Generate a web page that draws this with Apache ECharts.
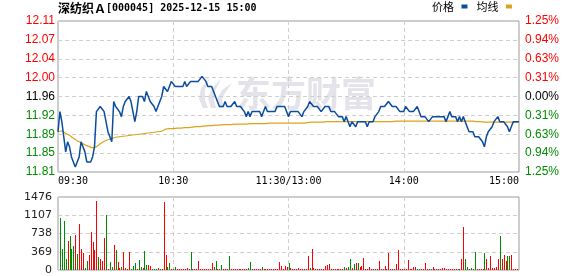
<!DOCTYPE html>
<html><head><meta charset="utf-8">
<script src="https://cdn.jsdelivr.net/npm/echarts@6/dist/echarts.min.js"></script>
<style>html,body{margin:0;padding:0;background:#fff}#c{width:578px;height:276px}</style>
</head><body><div id="c"></div>
<script>
const stockName = '深纺织Ａ';
const stockCode = '[000045]';
const stamp = '2025-12-15 15:00';
const preClose = 11.96;
const halfRangeCents = 15;
const timeLabels = ['09:30', '10:30', '11:30/13:00', '14:00', '15:00'];
const volMax = 1476;
const volStep = 369;
const legendNames = ['价格', '均线'];

const price = [
11.89,11.93,11.91,11.88,11.85,11.87,11.86,11.84,11.83,11.82,
11.82,11.84,11.87,11.86,11.85,11.83,11.83,11.83,11.84,11.86,
11.93,11.93,11.94,11.94,11.93,11.91,11.89,11.88,11.87,11.95,
11.94,11.94,11.93,11.92,11.94,11.95,11.95,11.96,11.95,11.93,
11.91,11.93,11.96,11.96,11.96,11.95,11.97,11.96,11.95,11.95,
11.94,11.93,11.94,11.94,11.96,11.98,11.98,11.97,11.98,11.99,
11.99,11.98,11.98,11.98,11.98,11.98,11.99,11.98,11.98,11.99,
11.99,11.99,11.99,11.99,11.99,12.00,12.00,11.99,11.98,11.98,
11.98,11.97,11.96,11.95,11.94,11.94,11.94,11.95,11.94,11.94,
11.94,11.94,11.95,11.94,11.94,11.94,11.94,11.93,11.92,11.93,
11.92,11.93,11.93,11.93,11.93,11.93,11.92,11.93,11.94,11.93,
11.93,11.93,11.93,11.93,11.94,11.94,11.94,11.94,11.94,11.93,
11.92,11.93,11.93,11.93,11.93,11.93,11.93,11.92,11.93,11.93,
11.94,11.95,11.95,11.94,11.94,11.94,11.94,11.93,11.93,11.94,
11.94,11.94,11.93,11.93,11.93,11.93,11.92,11.92,11.92,11.91,
11.92,11.91,11.90,11.91,11.91,11.90,11.91,11.91,11.91,11.91,
11.91,11.90,11.91,11.91,11.91,11.92,11.92,11.93,11.94,11.94,
11.94,11.94,11.95,11.95,11.94,11.94,11.94,11.94,11.93,11.93,
11.93,11.94,11.94,11.93,11.93,11.93,11.93,11.94,11.93,11.92,
11.92,11.92,11.92,11.91,11.91,11.92,11.92,11.92,11.92,11.92,
11.92,11.92,11.91,11.92,11.93,11.92,11.92,11.92,11.91,11.92,
11.91,11.92,11.91,11.90,11.89,11.89,11.89,11.88,11.88,11.88,
11.88,11.87,11.86,11.88,11.89,11.89,11.90,11.91,11.91,11.92,
11.91,11.91,11.91,11.91,11.90,11.89,11.90,11.91,11.91,11.91,11.91
];

const avgPrice = [
11.890,11.893,11.892,11.890,11.887,11.885,11.883,11.880,11.877,11.874,
11.872,11.870,11.868,11.866,11.864,11.862,11.861,11.859,11.858,11.857,
11.860,11.863,11.866,11.869,11.871,11.873,11.874,11.875,11.876,11.878,
11.879,11.880,11.880,11.881,11.881,11.882,11.882,11.883,11.883,11.884,
11.884,11.884,11.885,11.885,11.886,11.886,11.887,11.887,11.888,11.888,
11.889,11.889,11.890,11.890,11.891,11.894,11.895,11.895,11.896,11.896,
11.896,11.897,11.897,11.897,11.897,11.898,11.898,11.898,11.898,11.899,
11.899,11.899,11.900,11.900,11.900,11.901,11.901,11.901,11.902,11.902,
11.902,11.902,11.903,11.903,11.903,11.903,11.904,11.904,11.904,11.904,
11.904,11.905,11.905,11.905,11.905,11.905,11.905,11.905,11.905,11.906,
11.906,11.906,11.906,11.906,11.906,11.906,11.906,11.906,11.906,11.907,
11.907,11.907,11.907,11.907,11.907,11.907,11.907,11.907,11.907,11.907,
11.907,11.907,11.907,11.907,11.907,11.907,11.907,11.907,11.907,11.908,
11.908,11.909,11.909,11.909,11.909,11.909,11.909,11.909,11.909,11.909,
11.910,11.910,11.910,11.910,11.910,11.910,11.910,11.910,11.910,11.910,
11.910,11.910,11.910,11.910,11.910,11.910,11.910,11.910,11.910,11.910,
11.910,11.910,11.910,11.910,11.910,11.910,11.910,11.910,11.910,11.910,
11.910,11.910,11.910,11.910,11.910,11.911,11.911,11.911,11.911,11.911,
11.911,11.911,11.911,11.911,11.911,11.911,11.911,11.911,11.911,11.911,
11.911,11.911,11.911,11.911,11.911,11.911,11.911,11.911,11.911,11.911,
11.911,11.911,11.911,11.911,11.911,11.911,11.911,11.911,11.911,11.911,
11.911,11.911,11.911,11.911,11.911,11.911,11.911,11.911,11.910,11.910,
11.910,11.910,11.909,11.909,11.909,11.909,11.909,11.909,11.909,11.909,
11.909,11.909,11.909,11.909,11.909,11.909,11.909,11.909,11.909,11.909,11.909
];

const volume = [0,
1045,430,990,225,580,683,430,490,703,330,
922,430,340,48,190,307,765,560,396,1400,
260,225,185,656,1106,27,170,68,512,410,
170,48,68,369,34,27,369,27,82,137,
27,205,68,40,390,100,96,82,27,27,
27,40,27,27,1373,300,68,137,27,27,
68,27,27,20,27,27,40,20,355,20,
27,27,190,27,20,27,27,20,27,150,
68,190,27,20,100,27,20,27,287,27,
20,27,27,20,27,27,20,27,34,165,
27,20,27,27,20,68,27,27,20,27,
27,20,27,27,165,82,27,82,55,137,
48,20,20,27,48,20,20,20,20,287,
34,430,34,20,20,20,20,20,75,96,
123,20,20,20,20,20,20,20,61,41,
68,225,34,123,137,137,68,89,250,20,
20,68,27,20,20,20,190,20,20,82,
20,340,20,20,20,116,410,20,20,20,
20,205,20,20,55,68,20,20,20,20,
137,20,20,20,68,20,20,20,20,34,
48,20,20,20,20,20,20,20,20,218,
875,218,68,20,34,20,362,20,20,20,
20,340,218,48,280,48,48,68,218,697,
218,300,190,280,280,300,20,20,20,450
];

// 1 = up (red), -1 = down (green)
const direction = [-1,
-1,-1,-1,-1,1,-1,-1,-1,1,-1,
1,1,1,-1,-1,1,1,1,1,1,
-1,1,1,1,-1,1,-1,-1,1,-1,
1,1,-1,1,1,1,1,-1,-1,-1,
1,-1,-1,1,-1,-1,1,1,-1,-1,
-1,1,-1,1,1,1,-1,-1,1,1,
-1,1,1,1,1,1,1,1,-1,1,
1,1,1,1,1,1,1,1,1,1,
-1,-1,1,1,-1,1,1,1,-1,1,
1,1,1,1,1,1,1,1,-1,-1,
1,1,1,1,1,-1,1,1,1,1,
1,1,1,1,1,1,1,1,1,-1,
1,1,1,1,1,1,1,1,1,1,
-1,1,1,1,1,1,1,1,1,1,
1,1,1,1,1,1,1,1,-1,1,
-1,-1,1,-1,1,-1,1,1,1,1,
1,1,1,1,-1,1,1,1,-1,1,
1,1,1,-1,1,1,1,1,1,1,
1,1,1,1,1,1,-1,-1,1,1,
1,1,1,-1,1,1,1,1,1,1,
1,1,1,1,1,1,1,-1,-1,1,
1,-1,-1,1,-1,1,-1,1,1,1,
1,-1,1,1,1,1,1,1,1,-1,
1,1,1,-1,-1,1,1,1,1,1
];

const RED = '#ff0000', GREEN = '#008c00', BLUE = '#0b4c9e', GOLD = '#dca21a';
const pcCents = Math.round(preClose * 100);
const toCents = p => (p - preClose) * 100;
const signColor = v => v > 1e-6 ? RED : (v < -1e-6 ? GREEN : '#000');

const chart = echarts.init(document.getElementById('c'), null, {renderer: 'canvas'});
const dash = {color: '#cfcfcf', type: [4, 3], width: 1};
const WM = '#e3e3e9';
chart.setOption({
  animation: false,
  backgroundColor: '#fff',
  title: {
    left: 58, top: 1, padding: 0,
    text: '{c|' + stockName + '}{m|' + stockCode + ' ' + stamp + '}',
    textStyle: {rich: {
      c: {fontFamily: '"Noto Sans CJK SC"', fontSize: 12, lineHeight: 14, color: '#000'},
      m: {fontFamily: '"DejaVu Sans Mono"', fontSize: 10, lineHeight: 14, color: '#000'}
    }}
  },
  legend: {
    left: 432, top: 1, padding: 0, data: legendNames, icon: 'rect',
    itemWidth: 6, itemHeight: 4, itemGap: 9, align: 'right',
    formatter: n => n + ' ',
    textStyle: {fontFamily: '"Noto Sans CJK SC"', fontSize: 11, color: '#000'}
  },
  graphic: [
    {type: 'text', z: 0, style: {text: '东方财富', x: 236, y: 76, font: 'bold 35px "Noto Sans CJK SC"', fill: WM}},
    {type: 'polygon', z: 0, shape: {points: [[203,108],[199,99],[201,88],[210,78],[205,90],[205,100],[208,108]]}, style: {fill: WM}},
    {type: 'polygon', z: 0, shape: {points: [[211,108],[208,98],[212,88],[221,79],[215,91],[214,100],[216,108]]}, style: {fill: WM}},
    {type: 'polygon', z: 0, shape: {points: [[219,108],[217,99],[222,90],[232,83],[225,93],[222,100],[224,108]]}, style: {fill: WM}}
  ],
  grid: [
    {left: 58, top: 21, width: 461, height: 151, show: true, borderColor: '#999', borderWidth: 1},
    {left: 58, top: 197, width: 461, height: 73, show: true, borderColor: '#999', borderWidth: 1}
  ],
  xAxis: [
    {type: 'value', gridIndex: 0, min: 0, max: 240, interval: 60,
     axisLine: {show: false}, axisTick: {show: false},
     splitLine: {show: true, lineStyle: dash},
     axisLabel: {formatter: v => timeLabels[Math.round(v / 60)], fontFamily: '"DejaVu Sans Mono"', fontSize: 10, color: '#000', margin: 4,
       alignMinLabel: 'left', alignMaxLabel: 'right', showMinLabel: true, showMaxLabel: true}},
    {type: 'value', gridIndex: 1, min: 0, max: 240, interval: 60,
     axisLine: {show: false}, axisTick: {show: false}, axisLabel: {show: false},
     splitLine: {show: true, lineStyle: dash}}
  ],
  yAxis: [
    {type: 'value', gridIndex: 0, position: 'left', min: -halfRangeCents, max: halfRangeCents, interval: halfRangeCents / 4,
     axisLine: {show: false}, axisTick: {show: false},
     splitLine: {show: true, lineStyle: dash},
     axisLabel: {margin: 3, fontFamily: '"Liberation Sans"', fontSize: 12,
       formatter: v => (Math.round(pcCents + v) / 100).toFixed(2),
       color: v => signColor(Number(v))}},
    {type: 'value', gridIndex: 0, position: 'right', min: -halfRangeCents, max: halfRangeCents, interval: halfRangeCents / 4,
     axisLine: {show: false}, axisTick: {show: false}, splitLine: {show: false},
     axisLabel: {margin: 6, fontFamily: '"Liberation Sans"', fontSize: 12,
       formatter: v => (Math.abs(v) / preClose).toFixed(2) + '%',
       color: v => signColor(Number(v))}},
    {type: 'value', gridIndex: 1, min: 0, max: volMax, interval: volStep,
     axisLine: {show: false}, axisTick: {show: false},
     splitLine: {show: true, lineStyle: dash},
     axisLabel: {margin: 6, fontFamily: '"DejaVu Sans"', fontSize: 11, color: '#222', formatter: v => String(v)}}
  ],
  series: [
    {name: legendNames[0], type: 'line', xAxisIndex: 0, yAxisIndex: 0, symbol: 'none', z: 4,
     itemStyle: {color: BLUE}, lineStyle: {color: BLUE, width: 1.5},
     data: price.map((p, i) => [i, toCents(p)])},
    {name: legendNames[1], type: 'line', xAxisIndex: 0, yAxisIndex: 0, symbol: 'none', z: 3,
     itemStyle: {color: GOLD}, lineStyle: {color: GOLD, width: 1.2},
     data: avgPrice.map((p, i) => [i, toCents(p)])},
    {name: 'vol', type: 'custom', xAxisIndex: 1, yAxisIndex: 2, clip: true,
     renderItem: (params, api) => {
       const i = api.value(0), v = api.value(1);
       const top = api.coord([i, v]);
       const base = api.coord([i, 0]);
       const x = Math.round(top[0]);
       const y = Math.round(top[1]);
       return {type: 'rect', shape: {x: x, y: y, width: 1, height: Math.round(base[1]) - y},
               style: {fill: direction[params.dataIndex] > 0 ? RED : GREEN}};
     },
     encode: {x: 0, y: 1},
     data: volume.map((v, i) => [i, v])}
  ]
});
</script></body></html>
